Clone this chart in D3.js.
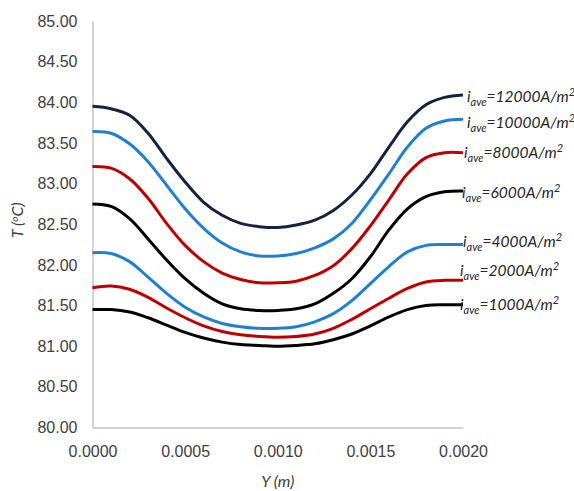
<!DOCTYPE html>
<html lang="en">
<head>
<meta charset="UTF-8" />
<title>Temperature profiles</title>
<script src="https://d3js.org/d3.v7.min.js"></script>
<style>
  body { margin: 0; background: #fff; }
  svg { display: block; font-family: Lato, "Open Sans", sans-serif; }
</style>
</head>
<body>
<div id="chart"></div>
<script>
// position across the channel, Y (m)
const yPos = [0, 0.0001, 0.0002, 0.0003, 0.0004, 0.0005, 0.0006, 0.0007, 0.0008, 0.0009, 0.0010,
  0.0011, 0.0012, 0.0013, 0.0014, 0.0015, 0.0016, 0.0017, 0.0018, 0.0019, 0.0020];

// temperature (°C) for each average current density
const t12000 = [83.95, 83.92, 83.84, 83.62, 83.31, 83.02, 82.77, 82.61, 82.51, 82.47, 82.46,
  82.49, 82.55, 82.67, 82.86, 83.12, 83.45, 83.76, 83.97, 84.06, 84.09];
const t10000 = [83.64, 83.62, 83.49, 83.27, 82.98, 82.69, 82.45, 82.27, 82.16, 82.11, 82.11,
  82.14, 82.21, 82.32, 82.51, 82.80, 83.12, 83.45, 83.68, 83.77, 83.79];
const t8000 = [83.21, 83.19, 83.06, 82.82, 82.51, 82.24, 82.04, 81.90, 81.82, 81.78, 81.78,
  81.80, 81.87, 81.99, 82.20, 82.48, 82.80, 83.12, 83.32, 83.38, 83.38];
const t6000 = [82.75, 82.72, 82.57, 82.32, 82.06, 81.83, 81.65, 81.52, 81.46, 81.44, 81.44,
  81.46, 81.52, 81.65, 81.83, 82.10, 82.43, 82.69, 82.84, 82.90, 82.91];
const t4000 = [82.15, 82.14, 82.04, 81.85, 81.65, 81.48, 81.36, 81.28, 81.24, 81.22, 81.22,
  81.24, 81.30, 81.40, 81.56, 81.77, 81.98, 82.16, 82.24, 82.25, 82.25];
const t2000 = [81.72, 81.74, 81.70, 81.60, 81.47, 81.35, 81.25, 81.18, 81.14, 81.12, 81.11,
  81.12, 81.15, 81.22, 81.33, 81.46, 81.59, 81.71, 81.79, 81.81, 81.81];
const t1000 = [81.45, 81.45, 81.42, 81.35, 81.26, 81.17, 81.10, 81.05, 81.02, 81.01, 81.00,
  81.01, 81.03, 81.08, 81.15, 81.25, 81.36, 81.45, 81.50, 81.51, 81.51];

const currents = ["12000", "10000", "8000", "6000", "4000", "2000", "1000"];
const seriesValues = [t12000, t10000, t8000, t6000, t4000, t2000, t1000];
const colors = ["#14233f", "#1f80d0", "#c00000", "#000000", "#1f80d0", "#c00000", "#000000"];

const xTicks = [0, 0.0005, 0.0010, 0.0015, 0.0020];
const yTicks = [80, 80.5, 81, 81.5, 82, 82.5, 83, 83.5, 84, 84.5, 85];

// label placement relative to the end of each curve
const labelDx = [4, 4, 1, -1, 0, -3, -3];
const labelDy = [2, 3, 0, 2, -3, -10, 0];

const width = 574, height = 491;
const margin = { top: 21, right: 111, bottom: 63.5, left: 92.5 };

const svg = d3.select("#chart").append("svg")
  .attr("width", width)
  .attr("height", height);

const x = d3.scaleLinear().domain([0, 0.002]).range([margin.left, width - margin.right]);
const y = d3.scaleLinear().domain([80, 85]).range([height - margin.bottom, margin.top]);

// axes: plain grey lines, no tick marks
svg.append("g")
  .attr("transform", `translate(0,${y(80)})`)
  .call(d3.axisBottom(x).tickValues(xTicks).tickFormat(d3.format(".4f")).tickSize(0).tickPadding(18))
  .call(g => g.select(".domain").attr("stroke", "#a6a6a6"))
  .call(g => g.selectAll("text").attr("font-size", 16).attr("fill", "#404040"));

svg.append("g")
  .attr("transform", `translate(${x(0)},0)`)
  .call(d3.axisLeft(y).tickValues(yTicks).tickFormat(d3.format(".2f")).tickSize(0).tickPadding(15))
  .call(g => g.select(".domain").attr("stroke", "#a6a6a6"))
  .call(g => g.selectAll("text").attr("font-size", 16).attr("fill", "#404040"));

// axis titles
svg.append("text")
  .attr("x", x(0.001))
  .attr("y", 487)
  .attr("text-anchor", "middle")
  .attr("font-size", 16)
  .attr("font-style", "italic")
  .attr("fill", "#404040")
  .text("Y (m)");

const yTitle = svg.append("text")
  .attr("transform", `translate(23,${y(82.5) - 4}) rotate(-90)`)
  .attr("text-anchor", "middle")
  .attr("font-size", 16)
  .attr("font-style", "italic")
  .attr("fill", "#404040");
yTitle.append("tspan").text("T (");
yTitle.append("tspan").attr("font-size", 10).attr("dy", -5).text("o");
yTitle.append("tspan").attr("dy", 5).text("C)");

// curves
const line = d3.line()
  .x((d, i) => x(yPos[i]))
  .y(d => y(d))
  .curve(d3.curveCatmullRom.alpha(0.5));

svg.append("g").selectAll("path")
  .data(seriesValues)
  .join("path")
  .attr("fill", "none")
  .attr("stroke", (d, i) => colors[i])
  .attr("stroke-width", 3)
  .attr("d", line);

// curve labels
const labels = svg.append("g").selectAll("text")
  .data(currents)
  .join("text")
  .attr("x", (d, i) => x(0.002) + labelDx[i])
  .attr("y", (d, i) => y(seriesValues[i][seriesValues[i].length - 1]) + labelDy[i])
  .attr("dy", "0.35em")
  .attr("font-size", 15.5)
  .attr("font-style", "italic")
  .attr("fill", "#262626");

labels.append("tspan").text("i");
labels.append("tspan").attr("font-size", 11).attr("dy", 4).text("ave");
labels.append("tspan").attr("dy", -4).text(d => `=${d}A/m`);
labels.append("tspan").attr("font-size", 11).attr("dy", -6).text("2");
</script>
</body>
</html>
